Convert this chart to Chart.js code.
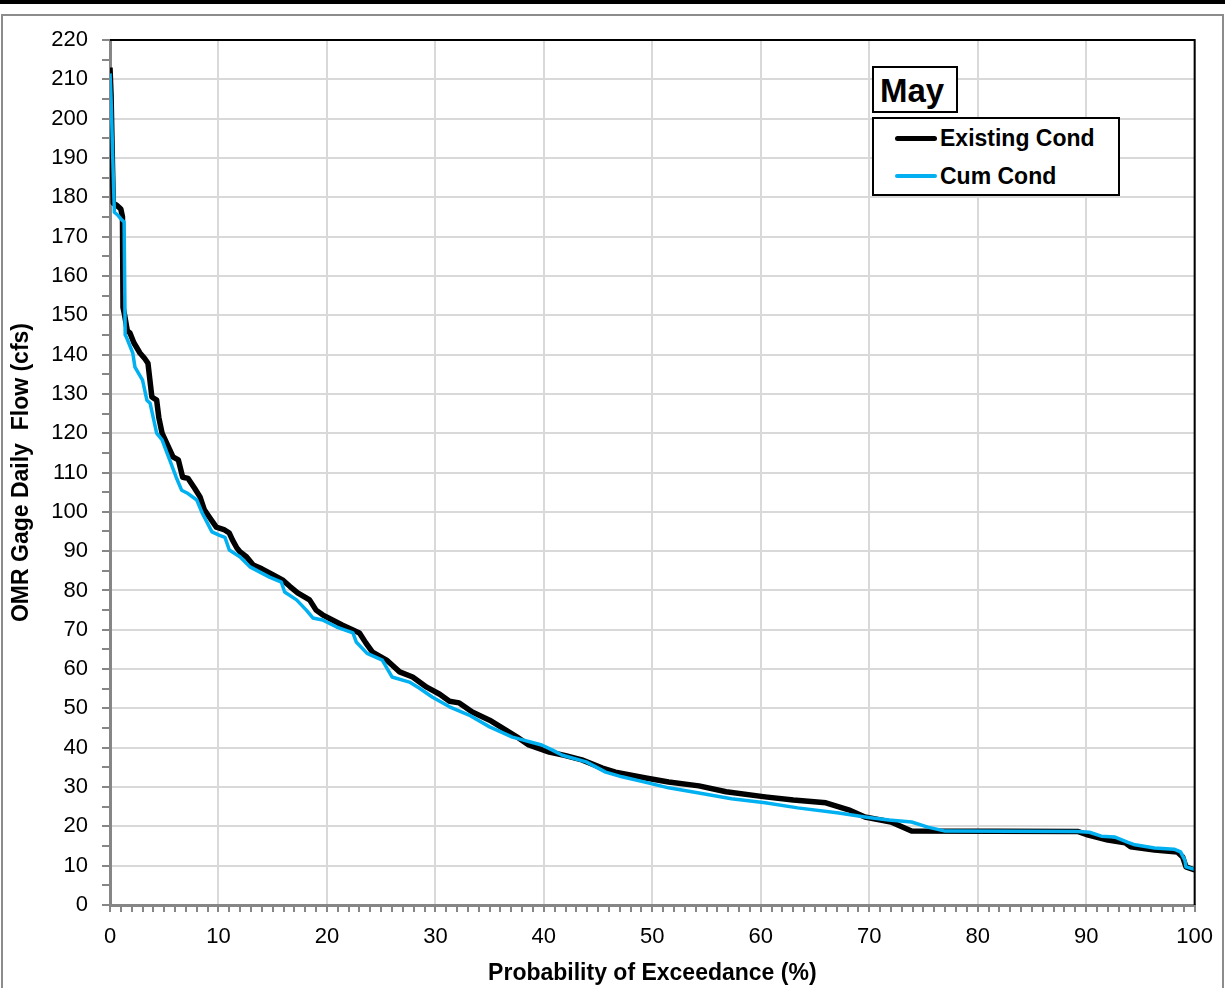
<!DOCTYPE html>
<html>
<head>
<meta charset="utf-8">
<script src="https://cdn.jsdelivr.net/npm/chart.js@4.4.1/dist/chart.umd.min.js"></script>
<style>
  html, body { margin: 0; padding: 0; background: #fff; }
  body { width: 1225px; height: 988px; position: relative; overflow: hidden; font-family: "Liberation Sans", Arial, sans-serif; }
  #topband { position: absolute; left: 0; top: 0; width: 1225px; height: 4px; background: #000; }
  #frame { position: absolute; left: 1px; top: 14px; width: 1219px; height: 990px; border: 2px solid #8c8c8c; border-bottom: none; }
  #c { position: absolute; left: 0; top: 0; }
  #maybox { position: absolute; left: 872px; top: 66px; width: 76px; height: 43px; border: 2px solid #000; background: #fff;
            font-weight: bold; font-size: 33px; line-height: 45px; padding-left: 6px; box-sizing: content-box; }
  #legend { position: absolute; left: 872px; top: 117px; width: 244px; height: 75px; border: 2px solid #000; background: #fff; }
  .li { position: absolute; left: 0; height: 26px; font-weight: bold; font-size: 23px; line-height: 26px; }
  .sw { position: absolute; left: 21px; width: 42px; border-radius: 3px; }
  .lt { position: absolute; left: 66px; white-space: nowrap; }
</style>
</head>
<body>
<div id="topband"></div>
<div id="frame"></div>
<canvas id="c" width="1225" height="988"></canvas>
<div id="maybox">May</div>
<div id="legend">
  <div class="li" style="top:6px;"><div class="sw" style="top:11px;height:5px;background:#000;"></div><div class="lt">Existing Cond</div></div>
  <div class="li" style="top:44px;"><div class="sw" style="top:11px;height:4px;background:#00b0f0;"></div><div class="lt">Cum Cond</div></div>
</div>
<script>
// ---- Data ----
const existingX = [0, 0.1, 0.3, 0.6, 1.0, 1.15, 1.2, 1.35, 1.6, 1.84, 2.2, 2.76, 3.2, 3.5, 3.86, 4.3, 4.5, 4.8, 5.3, 5.8, 6.3, 6.7, 7.2, 7.8, 8.3, 8.7, 9.2, 9.8, 10.5, 11.0, 11.3, 11.7, 12.0, 12.6, 13.2, 14.0, 15.0, 15.9, 16.6, 17.3, 18.4, 19.0, 19.6, 20.5, 21.4, 23.0, 23.6, 24.2, 25.5, 26.7, 27.9, 29.2, 30.4, 31.3, 32.2, 33.4, 35.0, 36.5, 37.5, 38.6, 40.5, 42.0, 43.5, 45.4, 46.6, 49.4, 51.5, 54.3, 56.8, 60.4, 63.0, 66.0, 68.1, 69.6, 72.0, 73.9, 89.2, 90.2, 92.0, 93.6, 94.1, 96.3, 98.4, 98.9, 99.2, 100];
const existingY = [213, 206, 178.5, 178, 177, 175, 152, 150, 146, 145.5, 143, 140.4, 139, 137.8, 129.2, 128.4, 124, 120, 117, 114, 113.2, 108.8, 108.5, 106, 103.8, 100.5, 98.5, 96.1, 95.5, 94.6, 92.8, 90.8, 89.8, 88.5, 86.5, 85.5, 84, 82.7, 81, 79.4, 77.6, 75, 73.8, 72.5, 71.2, 69.2, 66.6, 64.3, 62.3, 59.3, 58, 55.4, 53.6, 51.8, 51.4, 49.1, 47, 44.5, 42.8, 40.7, 38.9, 38, 36.9, 34.8, 33.8, 32.3, 31.3, 30.3, 28.8, 27.5, 26.7, 26, 24.2, 22.4, 21.1, 18.8, 18.7, 17.8, 16.5, 15.8, 14.8, 14, 13.5, 12.2, 9.7, 8.9];

const cumX = [0, 0.1, 0.4, 0.7, 1.0, 1.3, 1.4, 1.5, 2.1, 2.3, 3.0, 3.4, 3.7, 4.3, 4.8, 5.5, 6.1, 6.6, 7.1, 8.0, 8.5, 9.4, 10.1, 10.6, 11.0, 12.0, 12.9, 14.7, 15.8, 16.1, 17.2, 18.1, 18.7, 19.6, 20.9, 22.4, 22.7, 23.7, 25.1, 26.0, 27.6, 28.5, 29.7, 31.3, 33.1, 35.0, 37.1, 39.8, 40.8, 41.7, 43.9, 45.7, 47.2, 49.7, 51.5, 54.3, 57.3, 60.4, 63.4, 67.2, 69.6, 71.8, 73.9, 75.4, 77.0, 89.2, 90.3, 91.4, 92.6, 93.8, 94.5, 96.3, 98.1, 98.7, 99.1, 99.2, 100];
const cumY = [211.5, 205, 176.2, 175.5, 174.5, 173.7, 145, 144.5, 140.4, 136.8, 133.5, 128.4, 127.6, 120, 118.3, 113.2, 108.8, 105.5, 104.8, 103, 99.7, 94.9, 94, 93.5, 90.3, 88.5, 86, 83.4, 82.1, 79.6, 77.6, 75, 73, 72.5, 70.7, 69.2, 66.9, 64, 62.3, 58, 56.7, 55.2, 52.9, 50.4, 48.3, 45.3, 42.7, 40.7, 39.4, 38.1, 36.4, 33.8, 32.6, 31, 29.8, 28.5, 27, 26, 24.7, 23.4, 22.4, 21.6, 21.1, 19.8, 18.8, 18.7, 18.5, 17.5, 17.3, 16, 15.3, 14.5, 14.2, 13.5, 11.4, 9.7, 9.1];

const seriesNames = ["Existing Cond", "Cum Cond"];
const xTitle = "Probability of Exceedance (%)";
const yTitle = "OMR Gage Daily  Flow (cfs)";
const xMin = 0, xMax = 100, xMinorStep = 1, xMajorStep = 10;
const yMin = 0, yMax = 220, yMinorStep = 5, yMajorStep = 10;

const toPts = (xs, ys) => xs.map((x, i) => ({ x: x, y: ys[i] }));

const FONT = "'Liberation Sans', Arial, sans-serif";
const gridCol = '#d9d9d9';
const axisCol = '#868686';

const frameBorder = {
  id: 'frameBorder',
  afterDatasetsDraw(chart) {
    const a = chart.chartArea, ctx = chart.ctx;
    ctx.save();
    ctx.strokeStyle = '#000';
    ctx.lineWidth = 2;
    ctx.beginPath();
    ctx.moveTo(a.left, a.top);
    ctx.lineTo(a.right, a.top);
    ctx.lineTo(a.right, a.bottom);
    ctx.stroke();
    ctx.restore();
  }
};

new Chart(document.getElementById('c'), {
  type: 'scatter',
  data: {
    datasets: [
      { label: seriesNames[0], data: toPts(existingX, existingY), showLine: true, borderColor: '#000000',
        backgroundColor: '#000000', borderWidth: 5.5, pointRadius: 0, tension: 0, order: 2, borderJoinStyle: 'round' },
      { label: seriesNames[1], data: toPts(cumX, cumY), showLine: true, borderColor: '#00b0f0',
        backgroundColor: '#00b0f0', borderWidth: 3.5, pointRadius: 0, tension: 0, order: 1, borderJoinStyle: 'round' }
    ]
  },
  options: {
    responsive: false,
    animation: false,
    devicePixelRatio: 1,
    layout: { padding: { left: 0, right: 28, top: 40, bottom: 0 } },
    plugins: { legend: { display: false }, tooltip: { enabled: false } },
    scales: {
      x: {
        type: 'linear', min: xMin, max: xMax,
        afterFit(s) { s.height = 83; },
        border: { color: axisCol, width: 3 },
        grid: {
          color: (c) => (c.tick && c.tick.value % xMajorStep === 0) ? gridCol : 'rgba(0,0,0,0)',
          lineWidth: 2, borderDash: [3, 1], tickColor: axisCol, tickWidth: 2, tickLength: 7
        },
        ticks: {
          stepSize: xMinorStep, autoSkip: false, maxRotation: 0, padding: 12, color: '#000',
          font: { family: FONT, size: 22 },
          callback: (v) => (v % xMajorStep === 0) ? String(v) : ''
        },
        title: { display: true, text: xTitle, color: '#000', font: { family: FONT, size: 23, weight: 'bold' }, padding: { top: 0, bottom: 1 } }
      },
      y: {
        type: 'linear', min: yMin, max: yMax,
        afterFit(s) { s.width = 110; },
        border: { color: axisCol, width: 3 },
        grid: {
          color: (c) => (c.tick && c.tick.value % yMajorStep === 0) ? gridCol : 'rgba(0,0,0,0)',
          lineWidth: 2, borderDash: [3, 1], tickColor: axisCol, tickWidth: 2, tickLength: 8
        },
        ticks: {
          stepSize: yMinorStep, autoSkip: false, padding: 14, color: '#000',
          font: { family: FONT, size: 22 },
          callback: (v) => (v % yMajorStep === 0) ? String(v) : ''
        },
        title: { display: true, text: yTitle, color: '#000', font: { family: FONT, size: 23, weight: 'bold' }, padding: { top: 8, bottom: 0 } }
      }
    }
  },
  plugins: [frameBorder]
});
</script>
</body>
</html>
